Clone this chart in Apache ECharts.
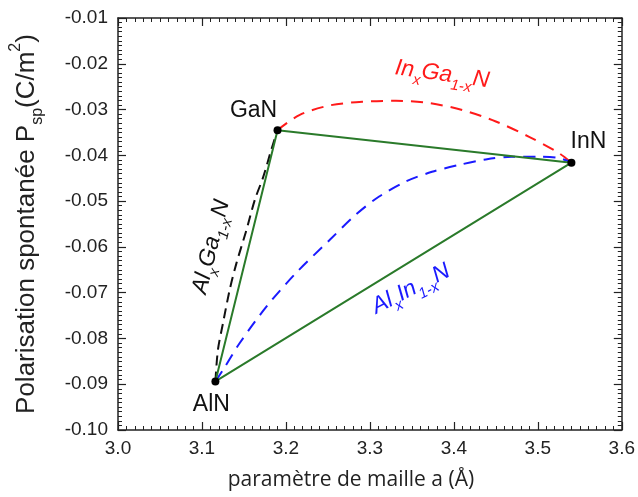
<!DOCTYPE html>
<html><head><meta charset="utf-8">
<script src="https://cdn.jsdelivr.net/npm/echarts@6/dist/echarts.min.js"></script>
<style>html,body{margin:0;padding:0;background:#fff}#c{width:638px;height:497px}</style>
</head><body><div id="c"></div><script>
// ---- data ----
const compounds = ['AlN', 'GaN', 'InN'];
const latticeA = [3.116, 3.190, 3.540];
const polarization = [-0.0894, -0.0345, -0.0416];
// inner points of the alloy curves (end points are the binary compounds)
const alGaN_a = [3.119, 3.125, 3.133, 3.141, 3.153, 3.163, 3.173, 3.183];
const alGaN_p = [-0.0825, -0.0767, -0.0694, -0.0636, -0.0563, -0.0497, -0.0447, -0.0385];
const inGaN_a = [3.216, 3.252, 3.291, 3.331, 3.371, 3.410, 3.450, 3.489, 3.525];
const inGaN_p = [-0.0312, -0.0291, -0.0283, -0.0281, -0.0286, -0.0301, -0.0326, -0.0359, -0.0395];
const alInN_a = [3.125, 3.145, 3.177, 3.212, 3.252, 3.283, 3.311, 3.343, 3.374, 3.406, 3.438, 3.469, 3.501, 3.525];
const alInN_p = [-0.0869, -0.0810, -0.0730, -0.0657, -0.0585, -0.0530, -0.0490, -0.0457, -0.0436, -0.0421, -0.0409, -0.0403, -0.0403, -0.0406];
const xTickMin = 3.0, xTickMax = 3.6, xTickStep = 0.1;
const yTickMin = -0.10, yTickMax = -0.01, yTickStep = 0.01;

// ---- build ----
const pt = i => [latticeA[i], polarization[i]];
const zip = (a, b) => a.map((v, i) => [v, b[i]]);
const curveAlGaN = [pt(0), ...zip(alGaN_a, alGaN_p), pt(1)];
const curveInGaN = [pt(1), ...zip(inGaN_a, inGaN_p), pt(2)];
const curveAlInN = [pt(0), ...zip(alInN_a, alInN_p), pt(2)];
const triangle = [pt(0), pt(1), pt(2), pt(0)];

const labelFont = 'Liberation Sans';
const tickCommon = {
  axisLine: { show: true, onZero: false, lineStyle: { color: '#222', width: 1.5 } },
  axisTick: { show: true, inside: true, length: 8, lineStyle: { color: '#222', width: 1.2 } },
  minorTick: { show: true, splitNumber: 10, length: 4, lineStyle: { color: '#222', width: 1 } },
  splitLine: { show: false }, minorSplitLine: { show: false }
};
const xBase = Object.assign({ type: 'value', min: xTickMin, max: xTickMax, interval: xTickStep }, tickCommon);
const yBase = Object.assign({ type: 'value', min: yTickMin, max: yTickMax, interval: yTickStep }, tickCommon);

const chart = echarts.init(document.getElementById('c'), null, { renderer: 'canvas' });
const subRich = (color) => ({
  m: { fontSize: 23, fontFamily: labelFont, fontStyle: 'italic', fill: color, lineHeight: 34, verticalAlign: 'middle' },
  s: { fontSize: 15, fontFamily: labelFont, fontStyle: 'italic', fill: color, lineHeight: 15, verticalAlign: 'bottom' }
});

chart.setOption({
  animation: false,
  backgroundColor: '#fff',
  grid: { left: 118, right: 15, top: 18, bottom: 67, containLabel: false },
  xAxis: [
    Object.assign({}, xBase, {
      position: 'bottom',
      axisLabel: { show: true, margin: 9, fontSize: 19, fontFamily: labelFont, color: '#222', formatter: v => v.toFixed(1) },
      name: 'paramètre de maille a (Å)', nameLocation: 'middle', nameGap: 40,
      nameTextStyle: { fontSize: 21, fontFamily: 'Open Sans', color: '#222', padding: [0, 38, 0, 0] }
    }),
    Object.assign({}, xBase, { position: 'top', axisLabel: { show: false } })
  ],
  yAxis: [
    Object.assign({}, yBase, {
      position: 'left',
      axisLabel: { show: true, margin: 10, fontSize: 19, fontFamily: labelFont, color: '#222', formatter: v => v.toFixed(2) },
      name: '{a|Polarisation spontanée P}{s|sp}{a|(C/m}{p|2}{a|)}',
      nameLocation: 'middle', nameRotate: 90, nameGap: 72,
      nameTextStyle: {
        rich: {
          a: { fontSize: 26, fontFamily: labelFont, color: '#222', lineHeight: 38, verticalAlign: 'middle' },
          s: { fontSize: 16, fontFamily: labelFont, color: '#222', lineHeight: 16, verticalAlign: 'bottom' },
          p: { fontSize: 16, fontFamily: labelFont, color: '#222', lineHeight: 16, verticalAlign: 'top' }
        }
      }
    }),
    Object.assign({}, yBase, { position: 'right', axisLabel: { show: false } })
  ],
  series: [
    { name: 'AlGaN', type: 'line', data: curveAlGaN, smooth: 0.3, symbol: 'none',
      lineStyle: { color: '#111', width: 2, type: [10, 6] }, z: 2 },
    { name: 'InGaN', type: 'line', data: curveInGaN, smooth: 0.3, symbol: 'none',
      lineStyle: { color: '#ff1a1a', width: 2, type: [12, 8] }, z: 2 },
    { name: 'AlInN', type: 'line', data: curveAlInN, smooth: 0.3, symbol: 'none',
      lineStyle: { color: '#1a1aff', width: 2, type: [12, 8] }, z: 2 },
    { name: 'triangle', type: 'line', data: triangle, symbol: 'none',
      lineStyle: { color: '#2a7a2a', width: 2 }, z: 3 },
    { name: 'binaires', type: 'scatter', symbol: 'circle', symbolSize: 8, z: 5,
      itemStyle: { color: '#000', opacity: 1 },
      label: { show: true, formatter: p => p.name, fontSize: 23, fontFamily: labelFont, color: '#111', opacity: 1, textBorderWidth: 0 },
      data: [
        { name: compounds[0], value: pt(0), label: { position: 'bottom', distance: 8, offset: [-4, 0] } },
        { name: compounds[1], value: pt(1), label: { position: 'top', distance: 4, offset: [-24, 0] } },
        { name: compounds[2], value: pt(2), label: { position: 'top', distance: 6, offset: [17, 0] } }
      ]
    }
  ]
});

// alloy annotations anchored in data coordinates
const alloyLabels = [
  { text: '{m|In}{s|x}{m|Ga}{s|1-x}{m|N}', at: [3.386, -0.0223], rot: -8, color: '#ff1a1a' },
  { text: '{m|Al}{s|x}{m|Ga}{s|1-x}{m|N}', at: [3.111, -0.0600], rot: 76, color: '#111' },
  { text: '{m|Al}{s|x}{m|In}{s|1-x}{m|N}', at: [3.349, -0.0692], rot: 27, color: '#1a1aff' }
];
chart.setOption({
  graphic: alloyLabels.map(l => {
    const p = chart.convertToPixel({ gridIndex: 0 }, l.at);
    return {
      type: 'text', x: p[0], y: p[1], rotation: l.rot * Math.PI / 180, z: 10,
      style: { text: l.text, fill: l.color, rich: subRich(l.color), align: 'center', verticalAlign: 'middle' }
    };
  })
});
</script></body></html>
